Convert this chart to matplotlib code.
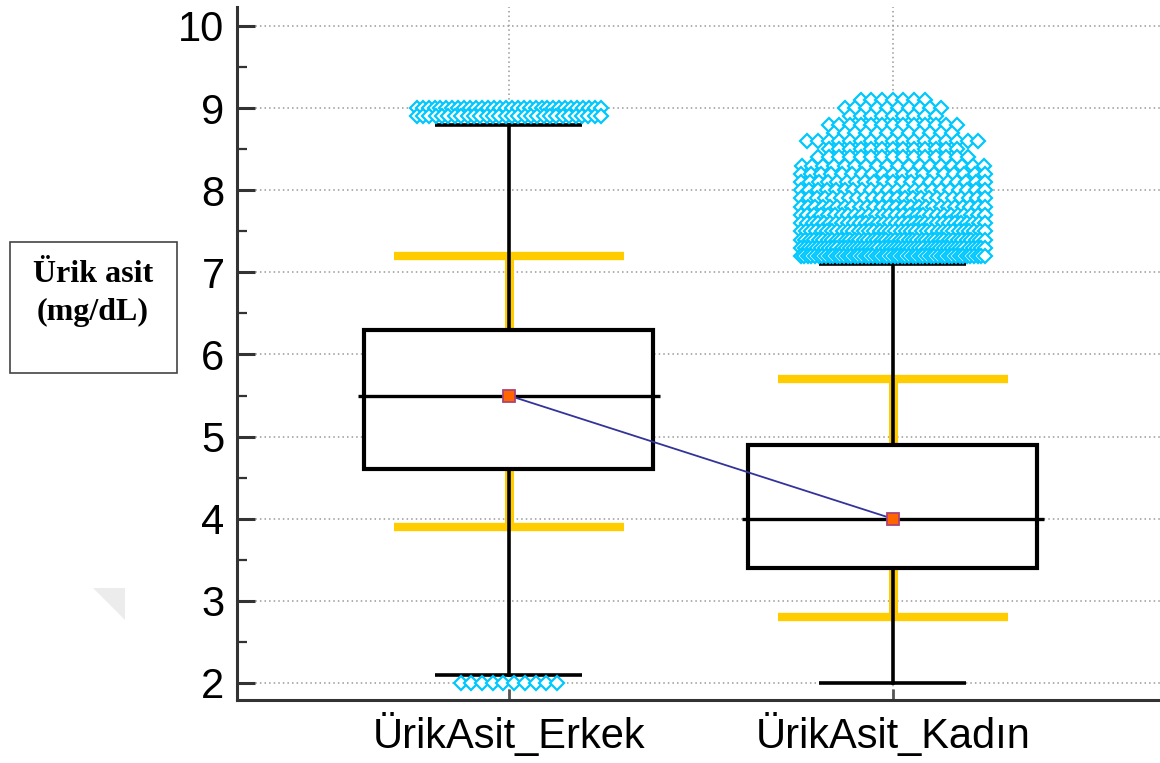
import numpy as np
import matplotlib
matplotlib.use("Agg")
import matplotlib.pyplot as plt
from matplotlib.patches import Rectangle, Polygon

# box plot summary (mg/dL)
groups = ["ÜrikAsit_Erkek", "ÜrikAsit_Kadın"]
q1 = [4.6, 3.4]
medians = [5.5, 4.0]
q3 = [6.3, 4.9]
whisk_lo = [2.1, 2.0]
whisk_hi = [8.8, 7.1]
means = [5.5, 4.0]
# reference range limits
ref_lo = [3.9, 2.8]
ref_hi = [7.2, 5.7]

# outside values: value -> number of cases
out_erkek_vals = [9.0, 8.9, 2.0]
out_erkek_cnt = [32, 30, 10]
out_kadin_vals = [9.1, 9.0, 8.9, 8.8, 8.7, 8.6, 8.5, 8.4, 8.3, 8.2,
                  8.1, 8.0, 7.9, 7.8, 7.7, 7.6, 7.5, 7.4, 7.3, 7.2]
out_kadin_cnt = [7, 10, 9, 13, 12, 17, 13, 15, 18, 19,
                 21, 22, 24, 26, 28, 32, 36, 42, 46, 52]

plt.rcParams['font.family'] = ['Liberation Sans', 'DejaVu Sans']

W, H = 1160, 763
fig = plt.figure(figsize=(W / 100, H / 100), dpi=100)
ax = fig.add_axes([237 / W, 63 / H, 923 / W, 693 / H])

xs = np.arange(1, len(groups) + 1)
box_half = 0.376
med_half = 0.393
cap_half = 0.191
ref_half = 0.30
yellow = "#FFCC00"

for i, x in enumerate(xs):
    # reference range in yellow, behind the box
    ax.plot([x, x], [ref_lo[i], ref_hi[i]], color=yellow, lw=6.5, zorder=2,
            solid_capstyle='butt')
    ax.hlines([ref_lo[i], ref_hi[i]], x - ref_half, x + ref_half, color=yellow,
              lw=6, zorder=2)
    # whiskers and caps
    ax.plot([x, x], [whisk_lo[i], q1[i]], color="black", lw=2.6, zorder=3)
    ax.plot([x, x], [q3[i], whisk_hi[i]], color="black", lw=2.6, zorder=3)
    ax.hlines([whisk_lo[i], whisk_hi[i]], x - cap_half, x + cap_half,
              color="black", lw=2.6, zorder=3)
    # box and median
    ax.add_patch(Rectangle((x - box_half, q1[i]), 2 * box_half, q3[i] - q1[i],
                           facecolor="white", edgecolor="black", lw=3,
                           zorder=4))
    ax.hlines(medians[i], x - med_half, x + med_half, color="black", lw=2.4,
              zorder=5)

# mean connecting line
ax.plot(xs, means, color="#333399", lw=1.3, zorder=6)
ax.plot(xs, means, ls="none", marker="s", ms=8.5, mfc="#FF6600",
        mec="#AA4477", mew=1.3, zorder=7)

# outside values spread sideways around their group
step = 0.0279
max_half = 0.24


def spread(center, n):
    half = (n - 1) * step / 2
    if half <= max_half:
        return center + (np.arange(n) - (n - 1) / 2) * step
    return np.linspace(center - max_half, center + max_half, n)


for x, vals, cnts in [(xs[0], out_erkek_vals, out_erkek_cnt),
                      (xs[1], out_kadin_vals, out_kadin_cnt)]:
    for v, n in zip(vals, cnts):
        px = spread(x, n)
        ax.plot(px, np.full(n, v), ls="none", marker="D", ms=7.0,
                mfc="white", mec="#00C8FF", mew=1.6, zorder=8)

ax.set_xlim(0.292, 2.696)
ax.set_ylim(1.793, 10.231)
ax.set_xticks(xs)
ax.set_xticklabels(groups, fontsize=30)
ax.set_yticks(np.arange(2, 11, 1))
ax.set_yticks(np.arange(2.5, 10, 1), minor=True)
ax.tick_params(axis='y', which='major', direction='in', length=13, width=2.2,
               labelsize=30, pad=9, color="#333333")
ax.tick_params(axis='y', which='minor', direction='in', length=7, width=1.6,
               color="#333333")
ax.tick_params(axis='x', direction='in', length=8, width=2, pad=9,
               color="#555555")

ax.grid(True, which='major', color="#999999", ls=(0, (1, 2)), lw=1.1,
        zorder=0)
ax.set_axisbelow(True)
for side in ['top', 'right']:
    ax.spines[side].set_visible(False)
for side in ['left', 'bottom']:
    ax.spines[side].set_color("#333333")
    ax.spines[side].set_linewidth(2.2)

# unit label box at the left
fig.patches.append(Rectangle((10 / W, 1 - 373 / H), 167 / W, 131 / H,
                             transform=fig.transFigure, facecolor="white",
                             edgecolor="#444444", lw=1.2))
fig.text(93 / W, 1 - 274 / H, "Ürik asit", ha='center', va='center',
         family='Liberation Serif', weight='bold', fontsize=23)
fig.text(93 / W, 1 - 312 / H, "(mg/dL)", ha='center', va='center',
         family='Liberation Serif', weight='bold', fontsize=23)

# faint corner mark
fig.patches.append(Polygon([(93 / W, 1 - 588 / H), (125 / W, 1 - 588 / H),
                            (125 / W, 1 - 620 / H)], closed=True,
                           transform=fig.transFigure, facecolor="#ececec",
                           edgecolor="none"))

fig.savefig("out.png", dpi=100)
